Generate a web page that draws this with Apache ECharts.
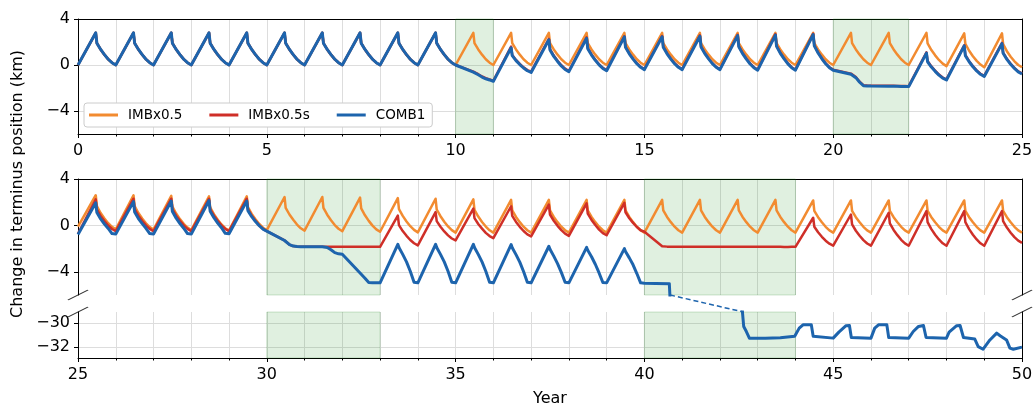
<!DOCTYPE html>
<html>
<head>
<meta charset="utf-8">
<script src="https://cdn.jsdelivr.net/npm/echarts@6/dist/echarts.min.js"></script>
<style>
html, body { margin: 0; padding: 0; background: #fff; }
#chart { width: 1035px; height: 411px; }
</style>
</head>
<body>
<div id="chart"></div>
<script>
// sample points inside each year (fraction of year)
var phase = [0, 0.47, 0.5, 0.6, 0.7, 0.8, 0.9];

// ---- years 0-25 (top panel), one row per year ----
var orangeTop = [
    [0, 2.8, 1.9, 1.35, 0.9, 0.5, 0.2], [0, 2.8, 1.9, 1.35, 0.9, 0.5, 0.2],
    [0, 2.8, 1.9, 1.35, 0.9, 0.5, 0.2], [0, 2.8, 1.9, 1.35, 0.9, 0.5, 0.2],
    [0, 2.8, 1.9, 1.35, 0.9, 0.5, 0.2], [0, 2.8, 1.9, 1.35, 0.9, 0.5, 0.2],
    [0, 2.8, 1.9, 1.35, 0.9, 0.5, 0.2], [0, 2.8, 1.9, 1.35, 0.9, 0.5, 0.2],
    [0, 2.8, 1.9, 1.35, 0.9, 0.5, 0.2], [0, 2.8, 1.9, 1.35, 0.9, 0.5, 0.2],
    [0, 2.8, 1.9, 1.35, 0.9, 0.5, 0.2], [0, 2.8, 1.9, 1.35, 0.9, 0.5, 0.2],
    [0, 2.8, 1.9, 1.35, 0.9, 0.5, 0.2], [0, 2.8, 1.9, 1.35, 0.9, 0.5, 0.2],
    [0, 2.8, 1.9, 1.35, 0.9, 0.5, 0.2], [0, 2.8, 1.9, 1.35, 0.9, 0.5, 0.2],
    [0, 2.8, 1.9, 1.35, 0.9, 0.5, 0.2], [0, 2.8, 1.9, 1.35, 0.9, 0.5, 0.2],
    [0, 2.8, 1.9, 1.35, 0.9, 0.5, 0.2], [0, 2.8, 1.9, 1.35, 0.9, 0.5, 0.2],
    [0, 2.8, 1.9, 1.35, 0.9, 0.5, 0.2], [0, 2.8, 1.9, 1.35, 0.9, 0.5, 0.2],
    [0, 2.8, 1.88, 1.3, 0.84, 0.44, 0.12],
    [-0.1, 2.75, 1.84, 1.24, 0.76, 0.36, 0.04],
    [-0.2, 2.75, 1.82, 1.2, 0.72, 0.32, 0.0]
];
var orangeTopEnd = -0.2;

var redTop = [
    [0, 2.8, 1.9, 1.35, 0.9, 0.5, 0.2], [0, 2.8, 1.9, 1.35, 0.9, 0.5, 0.2],
    [0, 2.8, 1.9, 1.35, 0.9, 0.5, 0.2], [0, 2.8, 1.9, 1.35, 0.9, 0.5, 0.2],
    [0, 2.8, 1.9, 1.35, 0.9, 0.5, 0.2], [0, 2.8, 1.9, 1.35, 0.9, 0.5, 0.2],
    [0, 2.8, 1.9, 1.35, 0.9, 0.5, 0.2], [0, 2.8, 1.9, 1.35, 0.9, 0.5, 0.2],
    [0, 2.8, 1.9, 1.35, 0.9, 0.5, 0.2], [0, 2.8, 1.9, 1.35, 0.9, 0.5, 0.2],
    [0, -0.58, -0.62, -0.8, -1.0, -1.15, -1.25],
    [-1.37, 1.6, 0.88, 0.44, 0.1, -0.2, -0.44],
    [-0.58, 2.28, 1.38, 0.82, 0.37, -0.02, -0.32],
    [-0.52, 2.4, 1.48, 0.92, 0.46, 0.06, -0.25],
    [-0.45, 2.5, 1.58, 1.01, 0.55, 0.15, -0.15],
    [-0.35, 2.52, 1.6, 1.03, 0.57, 0.16, -0.15],
    [-0.35, 2.58, 1.63, 1.04, 0.57, 0.16, -0.16],
    [-0.37, 2.62, 1.65, 1.05, 0.56, 0.14, -0.19],
    [-0.4, 2.68, 1.68, 1.07, 0.58, 0.15, -0.19],
    [-0.4, 2.72, 1.71, 1.09, 0.59, 0.15, -0.19],
    [-0.4, -0.75, -0.8, -1.05, -1.45, -1.75, -1.78],
    [-1.8, -1.8, -1.81, -1.81, -1.82, -1.82, -1.83],
    [-1.84, 1.1, 0.34, -0.12, -0.5, -0.83, -1.09],
    [-1.25, 1.72, 0.87, 0.33, -0.1, -0.47, -0.76],
    [-0.95, 1.92, 1.07, 0.54, 0.11, -0.25, -0.55]
];
var redTopEnd = -0.72;

var blueTop = [
    [0, 2.8, 1.9, 1.35, 0.9, 0.5, 0.2], [0, 2.8, 1.9, 1.35, 0.9, 0.5, 0.2],
    [0, 2.8, 1.9, 1.35, 0.9, 0.5, 0.2], [0, 2.8, 1.9, 1.35, 0.9, 0.5, 0.2],
    [0, 2.8, 1.9, 1.35, 0.9, 0.5, 0.2], [0, 2.8, 1.9, 1.35, 0.9, 0.5, 0.2],
    [0, 2.8, 1.9, 1.35, 0.9, 0.5, 0.2], [0, 2.8, 1.9, 1.35, 0.9, 0.5, 0.2],
    [0, 2.8, 1.9, 1.35, 0.9, 0.5, 0.2], [0, 2.8, 1.9, 1.35, 0.9, 0.5, 0.2],
    [0, -0.62, -0.66, -0.85, -1.05, -1.2, -1.3],
    [-1.42, 1.5, 0.81, 0.38, 0.04, -0.26, -0.5],
    [-0.65, 2.2, 1.31, 0.75, 0.31, -0.08, -0.39],
    [-0.58, 2.33, 1.42, 0.86, 0.41, 0.01, -0.3],
    [-0.5, 2.45, 1.54, 0.97, 0.51, 0.11, -0.2],
    [-0.4, 2.45, 1.54, 0.97, 0.51, 0.11, -0.2],
    [-0.4, 2.5, 1.57, 0.99, 0.53, 0.12, -0.2],
    [-0.4, 2.55, 1.59, 0.99, 0.51, 0.09, -0.24],
    [-0.45, 2.6, 1.62, 1.01, 0.53, 0.1, -0.24],
    [-0.45, 2.65, 1.66, 1.04, 0.54, 0.11, -0.23],
    [-0.45, -0.8, -0.85, -1.1, -1.5, -1.8, -1.82],
    [-1.83, -1.84, -1.84, -1.85, -1.85, -1.86, -1.86],
    [-1.88, 1.03, 0.28, -0.18, -0.55, -0.88, -1.14],
    [-1.3, 1.66, 0.81, 0.28, -0.15, -0.52, -0.81],
    [-1.0, 1.86, 1.02, 0.49, 0.06, -0.3, -0.6]
];
var blueTopEnd = -0.78;

// ---- years 25-50 (middle panel) ----
var orangeMid = [
    [-0.1, 2.6, 1.66, 1.07, 0.6, 0.19, -0.13],
    [-0.34, 2.6, 1.66, 1.07, 0.59, 0.18, -0.14],
    [-0.35, 2.55, 1.61, 1.02, 0.54, 0.13, -0.19],
    [-0.4, 2.5, 1.56, 0.97, 0.49, 0.08, -0.24],
    [-0.45, 2.5, 1.57, 0.99, 0.53, 0.12, -0.2],
    [-0.4, 2.45, 1.52, 0.94, 0.48, 0.07, -0.25],
    [-0.45, 2.45, 1.51, 0.92, 0.44, 0.03, -0.29],
    [-0.5, 2.4, 1.46, 0.87, 0.39, -0.02, -0.34],
    [-0.55, 2.35, 1.41, 0.82, 0.34, -0.07, -0.39],
    [-0.6, 2.3, 1.37, 0.79, 0.31, -0.09, -0.41],
    [-0.62, 2.25, 1.33, 0.76, 0.3, -0.1, -0.42],
    [-0.62, 2.2, 1.3, 0.73, 0.28, -0.11, -0.42],
    [-0.62, 2.2, 1.3, 0.73, 0.28, -0.11, -0.42],
    [-0.62, 2.2, 1.3, 0.73, 0.28, -0.11, -0.42],
    [-0.62, 2.2, 1.3, 0.73, 0.28, -0.11, -0.42],
    [-0.62, 2.2, 1.3, 0.73, 0.28, -0.11, -0.42],
    [-0.62, 2.2, 1.3, 0.73, 0.28, -0.11, -0.42],
    [-0.62, 2.2, 1.3, 0.73, 0.28, -0.11, -0.42],
    [-0.62, 2.2, 1.3, 0.73, 0.28, -0.11, -0.42],
    [-0.62, 2.15, 1.26, 0.71, 0.27, -0.12, -0.43],
    [-0.62, 2.15, 1.26, 0.71, 0.27, -0.12, -0.43],
    [-0.62, 2.15, 1.26, 0.71, 0.27, -0.12, -0.43],
    [-0.62, 2.15, 1.26, 0.71, 0.27, -0.12, -0.43],
    [-0.62, 2.15, 1.26, 0.71, 0.27, -0.12, -0.43],
    [-0.62, 2.15, 1.26, 0.71, 0.27, -0.12, -0.43]
];
var orangeMidEnd = -0.62;

var redMid = [
    [-0.72, 2.25, 1.37, 0.82, 0.38, -0.01, -0.31],
    [-0.5, 2.3, 1.4, 0.84, 0.4, 0.0, -0.3],
    [-0.5, 2.3, 1.4, 0.84, 0.4, 0.0, -0.3],
    [-0.5, 2.3, 1.4, 0.84, 0.4, 0.0, -0.3],
    [-0.5, 2.3, 1.4, 0.84, 0.4, 0.0, -0.3],
    [-0.5, -1.3, -1.38, -1.65, -1.78, -1.82, -1.83],
    [-1.83, -1.84, -1.83, -1.85, -1.84, -1.83, -1.85],
    [-1.84, -1.85, -1.84, -1.83, -1.85, -1.84, -1.85],
    [-1.85, 0.85, 0.03, -0.49, -0.9, -1.26, -1.54],
    [-1.72, 1.15, 0.37, -0.12, -0.52, -0.86, -1.13],
    [-1.3, 1.45, 0.63, 0.12, -0.28, -0.64, -0.92],
    [-1.1, 1.65, 0.82, 0.3, -0.12, -0.48, -0.77],
    [-0.95, 1.8, 0.94, 0.4, -0.04, -0.41, -0.71],
    [-0.9, 1.9, 1.02, 0.47, 0.03, -0.36, -0.66],
    [-0.85, 1.95, 1.13, 0.62, 0.22, -0.14, -0.42],
    [-0.55, -1.8, -1.82, -1.83, -1.84, -1.83, -1.84],
    [-1.84, -1.85, -1.84, -1.85, -1.84, -1.85, -1.84],
    [-1.84, -1.85, -1.84, -1.85, -1.84, -1.85, -1.84],
    [-1.84, -1.85, -1.84, -1.85, -1.86, -1.86, -1.85],
    [-1.85, 0.66, -0.11, -0.59, -0.98, -1.32, -1.58],
    [-1.75, 0.94, 0.08, -0.46, -0.89, -1.27, -1.56],
    [-1.75, 1.09, 0.18, -0.39, -0.84, -1.24, -1.55],
    [-1.75, 1.23, 0.28, -0.32, -0.8, -1.21, -1.54],
    [-1.75, 1.23, 0.28, -0.32, -0.8, -1.21, -1.54],
    [-1.75, 1.23, 0.36, -0.19, -0.63, -1.01, -1.31]
];
var redMidEnd = -1.5;

// COMB1 years 25-40, then the tail where it falls off the middle panel
var blueMid = [
    [-0.78, 1.95, 1.11, 0.56, 0.12, -0.26, -0.7],
    [-0.75, 2.05, 1.15, 0.59, 0.15, -0.25, -0.7],
    [-0.75, 2.1, 1.19, 0.62, 0.16, -0.24, -0.7],
    [-0.75, 2.15, 1.23, 0.66, 0.2, -0.2, -0.68],
    [-0.72, 2.1, 1.27, 0.75, 0.33, -0.03, -0.32],
    [-0.5, -1.3, -1.38, -1.65, -1.78, -1.82, -1.83],
    [-1.83, -1.84, -1.84, -1.9, -2.1, -2.35, -2.45],
    [-2.49, -4.1, -4.2, -4.55, -4.92, -4.95, -4.95],
    [-4.95, -1.63, -1.9, -2.5, -3.15, -3.95, -4.9],
    [-4.95, -1.63, -1.9, -2.5, -3.15, -3.95, -4.9],
    [-4.95, -1.63, -1.9, -2.5, -3.15, -3.95, -4.9],
    [-4.95, -1.65, -1.92, -2.52, -3.17, -3.97, -4.9],
    [-4.95, -1.8, -2.05, -2.65, -3.3, -4.05, -4.9],
    [-4.95, -1.9, -2.15, -2.7, -3.35, -4.1, -4.92],
    [-4.95, -2.0, -2.25, -2.8, -3.4, -4.15, -4.95]
];
var blueMidTail = [[40, -4.98], [40.3, -5.0], [40.66, -5.02], [40.69, -7]];

// COMB1 after the jump (lower panel)
var blueLow = [
    [42.58, -28.5], [42.63, -30.28], [42.7, -30.7], [42.78, -31.25], [43.2, -31.25],
    [43.6, -31.22], [43.98, -31.1], [44.1, -30.42], [44.2, -30.14], [44.42, -30.14],
    [44.47, -31.1], [44.5, -31.25], [45.0, -31.25], [45.15, -30.75], [45.34, -30.22],
    [45.43, -30.2], [45.48, -31.2], [45.52, -31.25], [46.0, -31.25], [46.1, -30.42],
    [46.2, -30.14], [46.42, -30.14], [46.47, -31.2], [46.5, -31.25], [47.0, -31.25],
    [47.12, -30.7], [47.26, -30.28], [47.39, -30.2], [47.46, -31.2], [47.5, -31.25],
    [48.0, -31.25], [48.07, -30.75], [48.27, -30.22], [48.36, -30.2], [48.45, -31.2],
    [48.5, -31.28], [48.75, -31.33], [48.84, -31.95], [48.97, -32.17], [49.15, -31.4],
    [49.33, -30.83], [49.42, -31.05], [49.59, -31.4], [49.68, -32.08], [49.77, -32.17],
    [50, -32.0]
];
// dashed link across the axis break
var blueGap = [[40.68, -6], [42.62, -29.1]];

var shadeTop = [[10, 11], [20, 22]];
var shadeLow = [[30, 33], [40, 44]];
var breakMarks = [[25, -6], [50, -6], [25, -29.1], [50, -29.1]];

var FONT = 'DejaVu Sans';
var C_ORANGE = '#f28b30';
var C_RED = '#cf2f28';
var C_BLUE = '#1d64ad';
var GRID_C = '#dddddd';

function cycles(start, rows, endValue) {
    var pts = [];
    rows.forEach(function (row, i) {
        row.forEach(function (v, j) {
            pts.push([+(start + i + phase[j]).toFixed(3), v]);
        });
    });
    if (endValue !== null) pts.push([start + rows.length, endValue]);
    return pts;
}

function minus(v) {
    return v < 0 ? '\u2212' + Math.abs(v) : String(v);
}

function shadeAreas(list) {
    return list.map(function (s) { return [{ xAxis: s[0] }, { xAxis: s[1] }]; });
}

var chart = echarts.init(document.getElementById('chart'), null, { renderer: 'canvas' });

function xMain(grid, min, max, withLabels, withLine) {
    return {
        type: 'value', gridIndex: grid, min: min, max: max, interval: 5, position: 'bottom',
        axisLine: { show: withLine, onZero: false, lineStyle: { color: '#000', width: 1 } },
        axisTick: { show: withLabels, length: 4, lineStyle: { color: '#000' } },
        minorTick: { show: withLabels, splitNumber: 5, length: 2.5, lineStyle: { color: '#000' } },
        splitLine: { show: true, lineStyle: { color: GRID_C, width: 1 } },
        minorSplitLine: { show: true, lineStyle: { color: GRID_C, width: 1 } },
        axisLabel: {
            show: withLabels, color: '#000', fontSize: 16, fontFamily: FONT, margin: 9,
            showMinLabel: true, showMaxLabel: true
        }
    };
}
function xSpine(grid) {
    return {
        type: 'value', gridIndex: grid, position: 'top', min: 0, max: 1,
        axisLine: { show: true, onZero: false, lineStyle: { color: '#000', width: 1 } },
        axisTick: { show: false }, axisLabel: { show: false }, splitLine: { show: false }
    };
}
function yMain(grid, min, max, ticks) {
    return {
        type: 'value', gridIndex: grid, min: min, max: max, position: 'left',
        axisLine: { show: true, onZero: false, lineStyle: { color: '#000', width: 1 } },
        axisTick: { show: true, length: 4, customValues: ticks, lineStyle: { color: '#000' } },
        axisLabel: {
            customValues: ticks, color: '#000', fontSize: 16, fontFamily: FONT, margin: 8,
            formatter: minus
        },
        splitLine: { show: true, lineStyle: { color: GRID_C, width: 1 } }
    };
}
function ySpine(grid) {
    return {
        type: 'value', gridIndex: grid, position: 'right', min: 0, max: 1,
        axisLine: { show: true, onZero: false, lineStyle: { color: '#000', width: 1 } },
        axisTick: { show: false }, axisLabel: { show: false }, splitLine: { show: false }
    };
}

function line(name, data, color, width, xi, yi, z, extra) {
    var s = {
        name: name, type: 'line', data: data, xAxisIndex: xi, yAxisIndex: yi,
        showSymbol: false, symbol: 'none', z: z, animation: false,
        itemStyle: { color: color },
        lineStyle: { color: color, width: width, join: 'round' }
    };
    if (extra) Object.assign(s, extra);
    return s;
}

var shadeStyle = {
    silent: true,
    itemStyle: { color: 'rgba(0,128,0,0.12)', borderColor: 'rgba(0,110,0,0.18)', borderWidth: 1 }
};

var option = {
    backgroundColor: '#fff',
    animation: false,
    grid: [
        { left: 78, top: 19, width: 944, height: 115, containLabel: false, outerBoundsMode: 'none' },
        { left: 78, top: 179, width: 944, height: 116, containLabel: false, outerBoundsMode: 'none' },
        { left: 78, top: 312, width: 944, height: 46, containLabel: false, outerBoundsMode: 'none' },
        { left: 78, top: 295, width: 944, height: 17, containLabel: false, outerBoundsMode: 'none' }
    ],
    xAxis: [
        xMain(0, 0, 25, true, true),
        xSpine(0),
        xMain(1, 25, 50, false, false),
        xSpine(1),
        Object.assign(xMain(2, 25, 50, true, true), {
            name: 'Year', nameLocation: 'middle', nameGap: 33,
            nameTextStyle: { color: '#000', fontSize: 16, fontFamily: FONT }
        }),
        { type: 'value', gridIndex: 3, min: 25, max: 50, show: false }
    ],
    yAxis: [
        yMain(0, -6, 4, [-4, 0, 4]),
        ySpine(0),
        yMain(1, -6, 4, [-4, 0, 4]),
        ySpine(1),
        yMain(2, -32.9, -29.08, [-32, -30]),
        ySpine(2),
        { type: 'value', gridIndex: 3, min: -29.1, max: -6, show: false }
    ],
    legend: {
        left: 84, top: 103, orient: 'horizontal',
        padding: [5, 7, 5, 5], itemWidth: 29, itemHeight: 3, itemGap: 27,
        icon: 'rect',
        backgroundColor: '#fff', borderColor: '#cccccc', borderWidth: 1, borderRadius: 3,
        textStyle: { color: '#000', fontSize: 13.5, fontFamily: FONT, padding: [0, 0, 0, 5] },
        data: ['IMBx0.5', 'IMBx0.5s', 'COMB1']
    },
    graphic: [{
        type: 'text', x: 18, y: 184, rotation: Math.PI / 2,
        style: {
            text: 'Change in terminus position (km)', fill: '#000',
            font: '16px "DejaVu Sans"', textAlign: 'center', textVerticalAlign: 'middle'
        }
    }],
    series: [
        // top panel
        line('IMBx0.5', cycles(0, orangeTop, orangeTopEnd), C_ORANGE, 2.5, 0, 0, 2,
            { markArea: Object.assign({ data: shadeAreas(shadeTop) }, shadeStyle) }),
        line('IMBx0.5s', cycles(0, redTop, redTopEnd), C_RED, 2.5, 0, 0, 3),
        line('COMB1', cycles(0, blueTop, blueTopEnd), C_BLUE, 3, 0, 0, 4),
        // middle panel
        line('IMBx0.5', cycles(25, orangeMid, orangeMidEnd), C_ORANGE, 2.5, 2, 2, 2,
            { markArea: Object.assign({ data: shadeAreas(shadeLow) }, shadeStyle) }),
        line('IMBx0.5s', cycles(25, redMid, redMidEnd), C_RED, 2.5, 2, 2, 3),
        line('COMB1', cycles(25, blueMid, null).concat(blueMidTail), C_BLUE, 3, 2, 2, 4),
        // lower panel
        line('COMB1', blueLow, C_BLUE, 3, 4, 4, 4,
            { markArea: Object.assign({ data: shadeAreas(shadeLow) }, shadeStyle) }),
        // link across the break
        line('COMB1', blueGap, C_BLUE, 1.5, 5, 6, 4,
            { lineStyle: { color: C_BLUE, width: 1.5, type: [5, 3] }, clip: false }),
        {
            type: 'scatter', xAxisIndex: 5, yAxisIndex: 6, data: breakMarks,
            symbol: 'path://M0,10L20,0', symbolSize: [20, 10], clip: false, silent: true,
            itemStyle: { color: 'none', borderColor: '#000', borderWidth: 1.2 }, z: 6
        }
    ]
};

chart.setOption(option);
</script>
</body>
</html>
